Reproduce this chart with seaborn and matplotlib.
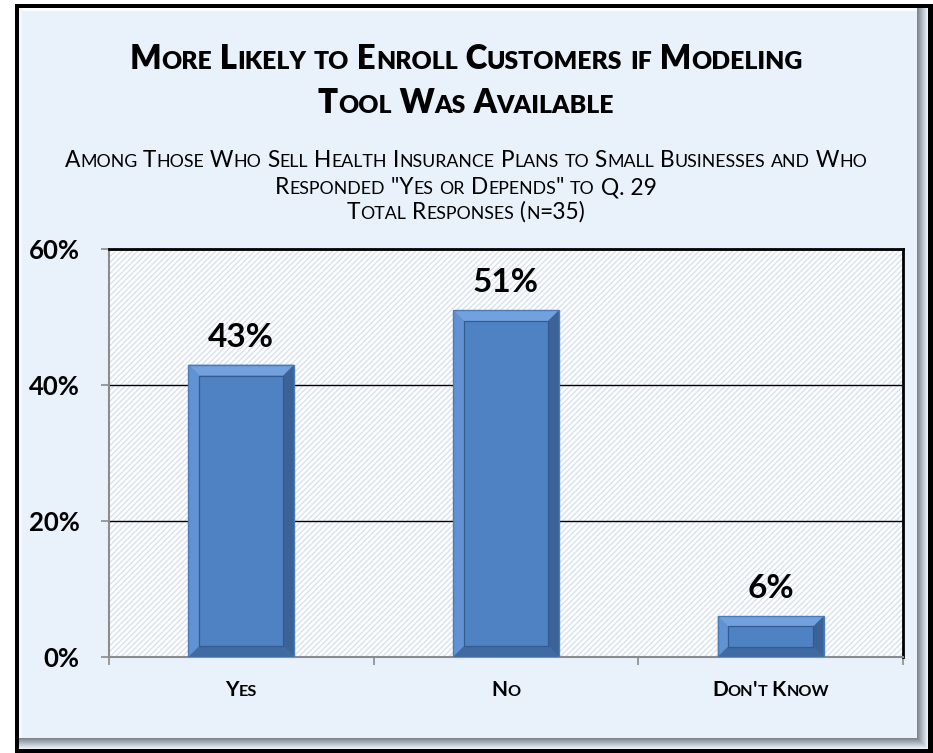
import numpy as np
import matplotlib
matplotlib.use("Agg")
import matplotlib.pyplot as plt
import seaborn as sns
from matplotlib.patches import Rectangle, Polygon
from matplotlib.transforms import IdentityTransform

# ---- data -------------------------------------------------------------
categories = ["Yes", "No", "Don't Know"]
percent_values = [43, 51, 6]
value_labels = ["43%", "51%", "6%"]
y_ticks = [0, 20, 40, 60]
y_tick_labels = ["0%", "20%", "40%", "60%"]

title_lines = ["More Likely to Enroll Customers if Modeling",
               "Tool Was Available"]
subtitle_lines = ["Among Those Who Sell Health Insurance Plans to Small Businesses and Who",
                  "Responded \"Yes or Depends\" to Q. 29",
                  "Total Responses (n=35)"]

# ---- figure -----------------------------------------------------------
W, H = 933, 753
DPI = 100
sns.set_theme(style="white")
plt.rcParams["font.family"] = ["Lato", "DejaVu Sans"]
plt.rcParams["hatch.linewidth"] = 0.9
plt.rcParams["text.color"] = "black"

fig = plt.figure(figsize=(W / DPI, H / DPI), dpi=DPI, facecolor="white")
px = IdentityTransform()

# outer frame: black border, pale blue panel, soft shadow on right/bottom
fig.patches.append(Rectangle((15, 0), W - 15, H - 4, transform=px,
                             facecolor="black", edgecolor="none", zorder=0))
panel_l, panel_r, panel_b, panel_t = 19, 928, 4, 745
fig.patches.append(Rectangle((panel_l, panel_b), panel_r - panel_l, panel_t - panel_b,
                             transform=px, facecolor="#9aa3ad", edgecolor="none", zorder=0.1))
shade = 11
for i in range(shade):
    c = np.array([0.92, 0.95, 0.985]) * (1 - i / shade) + np.array([0.45, 0.48, 0.52]) * (i / shade)
    fig.patches.append(Rectangle((panel_l, panel_b + i), panel_r - panel_l - i, panel_t - panel_b - i,
                                 transform=px, facecolor=c, edgecolor="none", zorder=0.1 + 0.01 * i))
fig.patches.append(Rectangle((panel_l, panel_b + shade), panel_r - panel_l - shade,
                             panel_t - panel_b - shade, transform=px,
                             facecolor="#e9f1fb", edgecolor="none", zorder=0.3))
# highlight along the top-left inner edge
fig.patches.append(Rectangle((panel_l, panel_t - 3), panel_r - panel_l - shade, 3, transform=px,
                             facecolor="#fbfdff", edgecolor="none", zorder=0.31))
fig.patches.append(Rectangle((panel_l, panel_b + shade), 3, panel_t - panel_b - shade, transform=px,
                             facecolor="#f4f8fd", edgecolor="none", zorder=0.31))

renderer = fig.canvas.get_renderer()


def text_width(s, size, weight):
    t = fig.text(0, 0, "|" + s + "|", fontsize=size, fontweight=weight, transform=px)
    w1 = t.get_window_extent(renderer).width
    t.remove()
    t = fig.text(0, 0, "||", fontsize=size, fontweight=weight, transform=px)
    w0 = t.get_window_extent(renderer).width
    t.remove()
    return w1 - w0


def small_caps(s, xc, y, size, weight="normal", ratio=0.76, color="black"):
    """Draw s centred on xc with lowercase letters shown as reduced capitals."""
    runs = []
    for ch in s:
        small = ch.islower()
        if runs and runs[-1][1] == small:
            runs[-1][0] += ch
        else:
            runs.append([ch, small])
    pieces = []
    for txt, small in runs:
        fs = size * ratio if small else size
        pieces.append((txt.upper(), fs, text_width(txt.upper(), fs, weight)))
    total = sum(p[2] for p in pieces)
    x = xc - total / 2
    for txt, fs, w in pieces:
        fig.text(x, y, txt, fontsize=fs, fontweight=weight, color=color,
                 ha="left", va="baseline", transform=px, zorder=5)
        x += w


# ---- titles -----------------------------------------------------------
cx = 466
small_caps(title_lines[0], cx, H - 69, 23.8, "heavy", ratio=0.75)
small_caps(title_lines[1], cx, H - 113, 23.8, "heavy", ratio=0.75)
for line, base in zip(subtitle_lines, [167, 194, 219]):
    small_caps(line, cx, H - base, 16.4, "normal", ratio=0.78)

# ---- plot area --------------------------------------------------------
left, right, top, bottom = 109, 903, 249, 657
ax = fig.add_axes([left / W, 1 - bottom / H, (right - left) / W, (bottom - top) / H])
ax.set_zorder(2)
ax.set_facecolor("white")
ax.add_patch(Rectangle((0, 0), 1, 1, transform=ax.transAxes, facecolor="white",
                       edgecolor="#d3deee", linewidth=0, hatch="//////", zorder=0.2))

sns.barplot(x=categories, y=percent_values, color="#4f82c3", width=0.4,
            saturation=1, ax=ax, zorder=3, linewidth=0)

ax.set_ylim(0, 60)
ax.set_xlim(-0.5, len(categories) - 0.5)
ax.set_yticks(y_ticks)
ax.set_yticklabels(y_tick_labels, fontsize=18.5, fontweight="bold", color="black")
ax.yaxis.grid(True, color="black", linewidth=1.0, zorder=1)
ax.set_axisbelow(True)
ax.set_xlabel("")
ax.set_ylabel("")
ax.tick_params(axis="y", which="major", length=6, width=1.2, color="#8c8c8c",
               direction="out", left=True, pad=15)
ax.set_xticks(np.arange(len(categories)))
ax.set_xticklabels([""] * len(categories))
ax.tick_params(axis="x", which="major", length=0)
ax.set_xticks(np.arange(len(categories) + 1) - 0.5, minor=True)
ax.tick_params(axis="x", which="minor", length=6, width=1.2, color="#8c8c8c",
               direction="out", bottom=True)
for side in ["left", "bottom"]:
    ax.spines[side].set_color("#8c8c8c")
    ax.spines[side].set_linewidth(1.5)
for side in ["top", "right"]:
    ax.spines[side].set_color("black")
    ax.spines[side].set_linewidth(2.0)
    ax.spines[side].set_visible(True)

fig.canvas.draw()

# bevelled faces on every bar
bars = [p for p in ax.patches if p.get_hatch() is None]
for p in bars:
    bb = p.get_window_extent(renderer)
    x0, y0, x1, y1 = bb.x0, bb.y0, bb.x1, bb.y1
    b = min(11, (y1 - y0) / 4)
    parts = [
        ([(x0, y1), (x1, y1), (x1 - b, y1 - b), (x0 + b, y1 - b)], "#72a1de"),
        ([(x0, y0), (x0, y1), (x0 + b, y1 - b), (x0 + b, y0 + b)], "#6193d4"),
        ([(x1, y0), (x1, y1), (x1 - b, y1 - b), (x1 - b, y0 + b)], "#3b6398"),
        ([(x0, y0), (x1, y0), (x1 - b, y0 + b), (x0 + b, y0 + b)], "#3f6aa2"),
    ]
    for pts, col in parts:
        ax.add_patch(Polygon(pts, closed=True, transform=px, facecolor=col,
                             edgecolor="none", zorder=4))
    ax.add_patch(Rectangle((x0 + b, y0 + b), x1 - x0 - 2 * b, y1 - y0 - 2 * b, transform=px,
                           facecolor="#4f82c3", edgecolor="#355b8e", linewidth=0.9, zorder=4.1))
    ax.add_patch(Rectangle((x0, y0), x1 - x0, y1 - y0, transform=px, facecolor="none",
                           edgecolor="#4b7bb9", linewidth=1.0, zorder=4.2))

# value labels above the bars
for i, (v, lab) in enumerate(zip(percent_values, value_labels)):
    ax.annotate(lab, (i, v), xytext=(0, 13), textcoords="offset points",
                ha="center", va="baseline", fontsize=24, fontweight="bold",
                color="black", zorder=6)

# category labels in small capitals
for i, cat in enumerate(categories):
    xpix = ax.transData.transform((i, 0))[0]
    small_caps(cat, xpix, H - 696, 15, "bold", ratio=0.78)

fig.savefig("out.png", dpi=DPI, facecolor="white")
